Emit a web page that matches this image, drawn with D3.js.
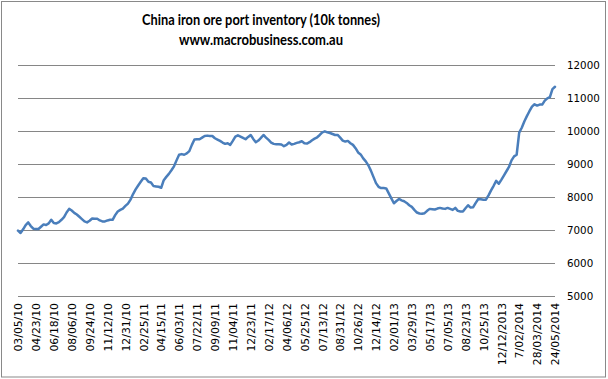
<!DOCTYPE html>
<html>
<head>
<meta charset="utf-8">
<script src="https://cdn.jsdelivr.net/npm/d3@7"></script>
<style>
  html, body { margin: 0; padding: 0; background: #fff; }
  svg { display: block; }
</style>
</head>
<body>
<script>
const titleLines = ["China iron ore port inventory (10k tonnes)", "www.macrobusiness.com.au"];

const tickLabels = ["03/05/10","04/23/10","06/18/10","08/06/10","09/24/10","11/12/10","12/31/10",
  "02/25/11","04/15/11","06/03/11","07/22/11","09/09/11","11/04/11","12/23/11","02/17/12",
  "04/06/12","05/25/12","07/13/12","08/31/12","10/26/12","12/14/12","02/01/13","03/29/13",
  "05/17/13","07/05/13","08/23/13","10/25/13","12/12/2013","7/02/2014","28/03/2014","24/05/2014"];

const yTicks = [5000, 6000, 7000, 8000, 9000, 10000, 11000, 12000];

const inventory = [
  6980,6910,7020,7150,7230,7120,7040,7030,7030,7100,
  7170,7150,7200,7310,7210,7200,7240,7310,7390,7530,
  7640,7590,7520,7470,7400,7330,7260,7230,7280,7350,
  7340,7340,7290,7260,7260,7290,7310,7310,7450,7560,
  7610,7650,7730,7800,7920,8090,8230,8350,8460,8570,
  8560,8460,8440,8330,8320,8310,8280,8510,8610,8700,
  8810,8930,9110,9280,9300,9280,9320,9390,9580,9740,
  9750,9750,9800,9850,9860,9850,9850,9780,9740,9700,
  9650,9610,9630,9580,9700,9830,9870,9830,9790,9750,
  9820,9880,9760,9660,9710,9790,9880,9800,9730,9650,
  9610,9600,9600,9590,9540,9580,9650,9590,9610,9640,
  9660,9690,9630,9620,9660,9720,9770,9810,9880,9960,
  9990,9960,9940,9910,9880,9880,9800,9710,9680,9700,
  9630,9580,9480,9350,9290,9170,9080,8960,8800,8610,
  8420,8310,8270,8270,8260,8110,7960,7810,7880,7940,
  7900,7870,7820,7750,7700,7610,7530,7500,7490,7510,
  7580,7640,7630,7620,7650,7670,7650,7640,7670,7640,
  7610,7670,7580,7560,7560,7660,7750,7680,7690,7820,
  7940,7930,7920,7920,8050,8200,8340,8490,8400,8520,
  8650,8780,8910,9110,9230,9280,9950,10100,10290,10450,
  10600,10740,10810,10770,10800,10800,10920,10990,11030,11270,
  11340
];

const W = 608, H = 379;
const plot = { left: 18, right: 555, top: 65, bottom: 296 };
const labelEvery = 7;

const svg = d3.select("body").append("svg").attr("width", W).attr("height", H);

svg.append("rect").attr("x", 1.5).attr("y", 1.5).attr("width", 604).attr("height", 375.5)
  .attr("fill", "#fff").attr("stroke", "#898989").attr("stroke-width", 1);

const x = d3.scaleLinear().domain([0, inventory.length - 1]).range([plot.left, plot.right]);
const y = d3.scaleLinear().domain([5000, 12000]).range([plot.bottom, plot.top]);

// Titles
const titleWidths = [238, 164];
svg.selectAll("text.title").data(titleLines).join("text")
  .attr("class", "title")
  .attr("x", 261).attr("y", (d, i) => 25 + i * 20)
  .attr("text-anchor", "middle")
  .attr("font-family", "Lato, 'Open Sans', sans-serif")
  .attr("font-weight", "bold")
  .attr("font-size", "14.5px")
  .attr("fill", "#000")
  .attr("textLength", (d, i) => titleWidths[i])
  .attr("lengthAdjust", "spacingAndGlyphs")
  .text(d => d);

// Gridlines
const grid = svg.append("g").attr("transform", `translate(${plot.left},0)`)
  .call(d3.axisLeft(y).tickValues(yTicks).tickSize(-(plot.right - plot.left)).tickFormat(""));
grid.select(".domain").remove();
grid.selectAll(".tick line").attr("stroke", "#868686").attr("stroke-width", 1).attr("shape-rendering", "crispEdges");

// Y labels on right
const yAxis = svg.append("g").attr("transform", `translate(${plot.right},0)`)
  .call(d3.axisRight(y).tickValues(yTicks).tickSize(0).tickPadding(12).tickFormat(d3.format("d")));
yAxis.select(".domain").remove();
yAxis.selectAll("text").attr("font-family", "'DejaVu Sans', Verdana, sans-serif")
  .attr("font-size", "10.3px").attr("fill", "#000");

// X labels
const xAxis = svg.append("g").attr("transform", `translate(0,${plot.bottom})`)
  .call(d3.axisBottom(x)
    .tickValues(d3.range(0, inventory.length, labelEvery))
    .tickSize(0)
    .tickFormat(d => tickLabels[d / labelEvery]));
xAxis.select(".domain").remove();
xAxis.selectAll("text")
  .attr("font-family", "'DejaVu Sans', Verdana, sans-serif")
  .attr("font-size", "10.8px")
  .attr("fill", "#000")
  .attr("text-anchor", "end")
  .attr("transform", "rotate(-90)")
  .attr("x", -7)
  .attr("y", 0)
  .attr("dy", "0.35em");

// Line
const line = d3.line().x((d, i) => x(i)).y(d => y(d));
svg.append("path").datum(inventory)
  .attr("d", line)
  .attr("fill", "none")
  .attr("stroke", "#4A7EBB")
  .attr("stroke-width", 2.5)
  .attr("stroke-linejoin", "round")
  .attr("stroke-linecap", "round");
</script>
</body>
</html>
